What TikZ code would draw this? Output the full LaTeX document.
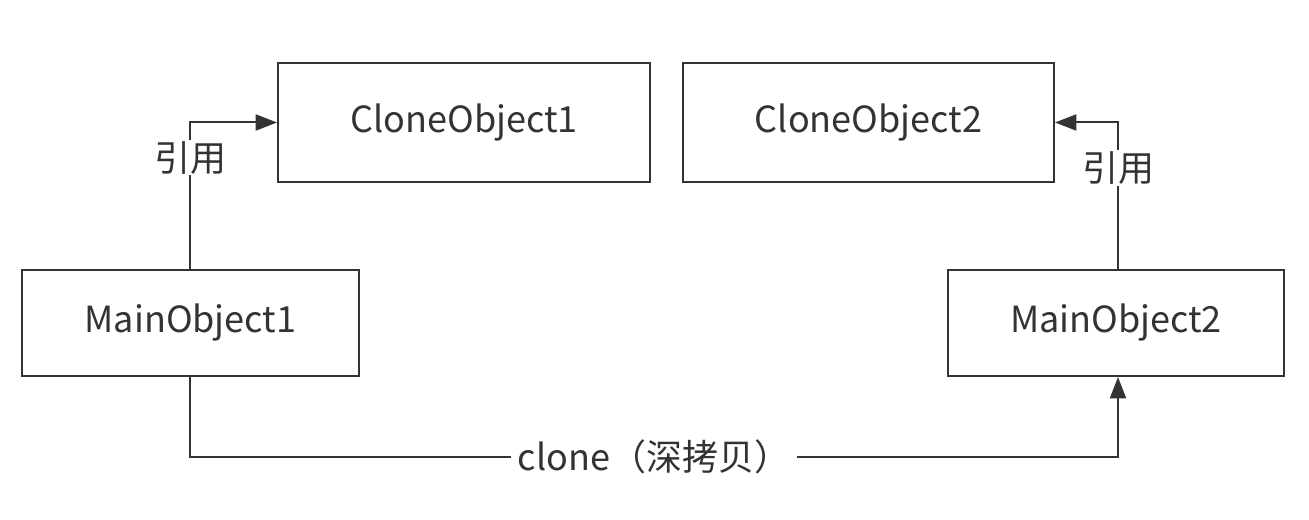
\documentclass[tikz,border=0pt]{standalone}
\usepackage{fontspec}
\setmainfont{Noto Sans CJK SC}
\usetikzlibrary{arrows.meta}
\definecolor{ink}{HTML}{333333}
\tikzset{
  obj/.style={draw=ink, line width=1.5pt, fill=white, inner sep=0pt, text=ink, font=\fontsize{27}{31}\selectfont},
  conn/.style={draw=ink, line width=1.5pt, -{Triangle[length=16pt,width=12pt]}},
  lbl/.style={fill=white, text=ink, inner sep=1pt, font=\fontsize{27}{31}\selectfont}
}
\begin{document}
\begin{tikzpicture}[x=0.75pt,y=-0.75pt]
\useasboundingbox (0,0) rectangle (1309,520);
\node[obj, minimum width=372*0.75pt, minimum height=119*0.75pt] (c1) at (464,122.5) {CloneObject1};
\node[obj, minimum width=371*0.75pt, minimum height=119*0.75pt] (c2) at (868.5,122.5) {CloneObject2};
\node[obj, minimum width=337*0.75pt, minimum height=106*0.75pt] (m1) at (190.5,323) {MainObject1};
\node[obj, minimum width=336*0.75pt, minimum height=106*0.75pt] (m2) at (1116,323) {MainObject2};
\coordinate (b1) at (190,457);
\coordinate (b2) at (1118,457);
\draw[conn] (m1.north -| b1) |- (c1.west) node[lbl, pos=0.38] {引用};
\draw[conn] (m2.north -| b2) |- (c2.east) node[lbl, pos=0.345] {引用};
\draw[conn] (m1.south -| b1) -- (b1) -- (b2) node[lbl, midway, inner xsep=5pt] {clone（深拷贝）} -- (m2.south -| b2);
\end{tikzpicture}
\end{document}
